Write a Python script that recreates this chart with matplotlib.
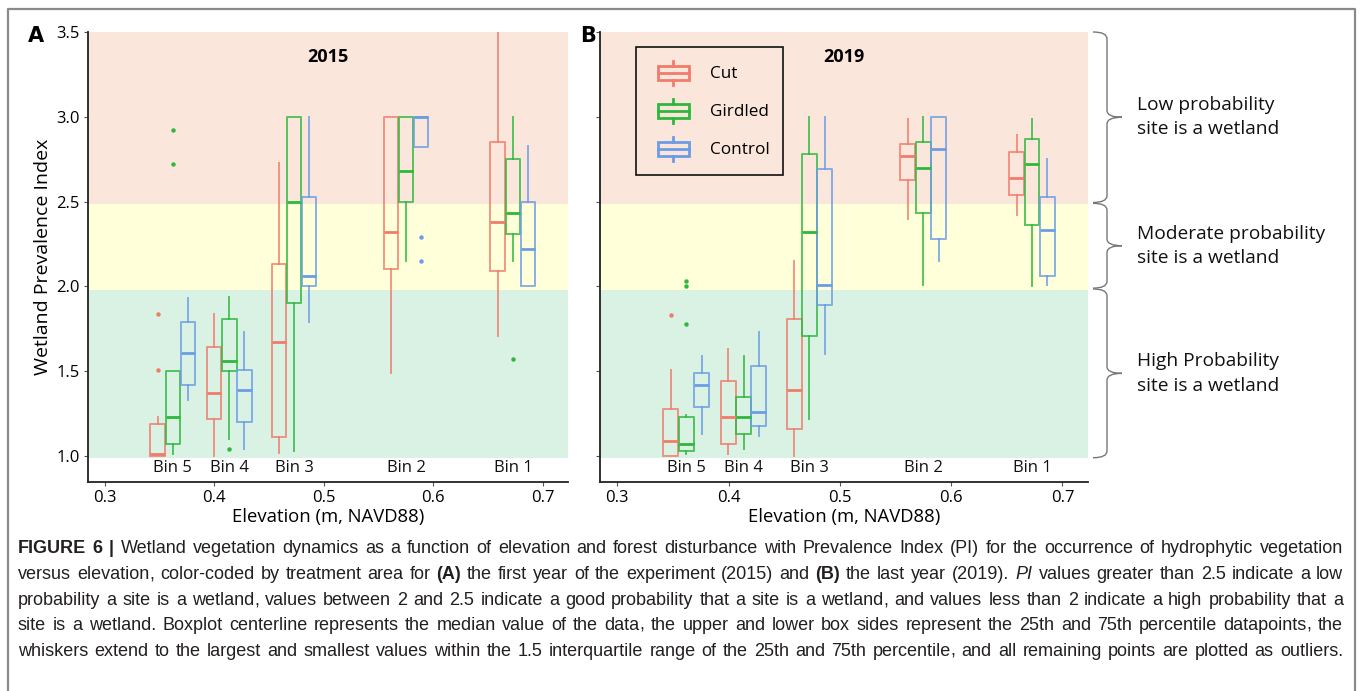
import numpy as np
import matplotlib
matplotlib.use("Agg")
import matplotlib.pyplot as plt
from matplotlib.patches import Rectangle, Patch, PathPatch
from matplotlib.lines import Line2D
from matplotlib.path import Path
from matplotlib.legend_handler import HandlerBase
from matplotlib.transforms import blended_transform_factory

plt.rcParams['font.family'] = ['Open Sans', 'DejaVu Sans']

W, H = 1360, 691

bins = ["Bin 5", "Bin 4", "Bin 3", "Bin 2", "Bin 1"]
bin_elev = [0.362, 0.4135, 0.4727, 0.575, 0.6727]
treatments = ["Cut", "Girdled", "Control"]
colors = ["#F07C6C", "#2DB83D", "#6C9CE6"]

# (whislo, q1, median, q3, whishi) per bin
cut_2015 = [(1.00, 1.00, 1.01, 1.19, 1.23), (1.00, 1.22, 1.37, 1.64, 1.84),
            (1.02, 1.11, 1.67, 2.13, 2.73), (1.49, 2.10, 2.32, 3.00, 3.00),
            (1.71, 2.09, 2.38, 2.85, 3.50)]
girdled_2015 = [(1.01, 1.07, 1.23, 1.50, 1.50), (1.10, 1.50, 1.56, 1.81, 1.94),
                (1.03, 1.90, 2.50, 3.00, 3.00), (2.15, 2.50, 2.68, 3.00, 3.00),
                (2.15, 2.31, 2.43, 2.75, 3.00)]
control_2015 = [(1.33, 1.42, 1.61, 1.79, 1.93), (1.04, 1.20, 1.39, 1.51, 1.73),
                (1.79, 2.00, 2.06, 2.53, 3.00), (2.82, 2.82, 3.00, 3.00, 3.00),
                (2.00, 2.00, 2.22, 2.50, 2.83)]
cut_2015_out = [[1.84, 1.51], [], [], [], []]
girdled_2015_out = [[2.92, 2.72], [1.04], [], [], [1.57]]
control_2015_out = [[], [], [], [2.29, 2.15], []]

cut_2019 = [(1.00, 1.00, 1.09, 1.28, 1.51), (1.01, 1.07, 1.23, 1.44, 1.63),
            (1.00, 1.16, 1.39, 1.81, 2.15), (2.40, 2.63, 2.77, 2.84, 2.99),
            (2.42, 2.54, 2.64, 2.79, 2.89)]
girdled_2019 = [(1.01, 1.03, 1.07, 1.23, 1.24), (1.04, 1.13, 1.23, 1.35, 1.59),
                (1.22, 1.71, 2.32, 2.78, 3.00), (2.01, 2.43, 2.70, 2.85, 3.00),
                (2.00, 2.36, 2.72, 2.87, 2.99)]
control_2019 = [(1.13, 1.29, 1.42, 1.49, 1.59), (1.12, 1.18, 1.26, 1.53, 1.73),
                (1.60, 1.89, 2.01, 2.69, 3.00), (2.15, 2.28, 2.81, 3.00, 3.00),
                (2.01, 2.06, 2.33, 2.53, 2.75)]
cut_2019_out = [[1.83], [], [], [], []]
girdled_2019_out = [[2.03, 2.00, 1.78], [], [], [], []]
control_2019_out = [[], [], [], [], []]

zones = [(2.485, 3.5, "#FBE6DC"), (1.98, 2.485, "#FFFFDA"), (0.99, 1.98, "#D9F2E3")]
zone_text = ["Low probability\nsite is a wetland",
             "Moderate probability\nsite is a wetland",
             "High Probability\nsite is a wetland"]
brace_spans = [(3.5, 2.495), (2.49, 1.99), (1.985, 0.99)]

caption = [
    "*FIGURE *6 *| Wetland vegetation dynamics as a function of elevation and forest disturbance with Prevalence Index (PI) for the occurrence of hydrophytic vegetation",
    "versus elevation, color-coded by treatment area for *(A) the first year of the experiment (2015) and *(B) the last year (2019). _PI values greater than 2.5 indicate a low",
    "probability a site is a wetland, values between 2 and 2.5 indicate a good probability that a site is a wetland, and values less than 2 indicate a high probability that a",
    "site is a wetland. Boxplot centerline represents the median value of the data, the upper and lower box sides represent the 25th and 75th percentile datapoints, the",
    "whiskers extend to the largest and smallest values within the 1.5 interquartile range of the 25th and 75th percentile, and all remaining points are plotted as outliers.",
]


class BoxIconHandler(HandlerBase):
    def create_artists(self, legend, orig_handle, xdescent, ydescent,
                       width, height, fontsize, trans):
        c = orig_handle.get_edgecolor()
        bw = width * 0.66
        x0 = -xdescent + (width - bw) / 2
        yc = -ydescent + height / 2
        bh = height * 0.56
        rect = Rectangle((x0, yc - bh / 2), bw, bh, fill=False, ec=c, lw=2,
                         transform=trans)
        mid = Line2D([x0, x0 + bw], [yc, yc], color=c, lw=2, transform=trans)
        xm = x0 + bw / 2
        top = Line2D([xm, xm], [yc + bh / 2, yc + height / 2], color=c, lw=2,
                     transform=trans)
        bot = Line2D([xm, xm], [yc - bh / 2, yc - height / 2], color=c, lw=2,
                     transform=trans)
        return [rect, mid, top, bot]


def draw_panel(ax, series, outliers, title):
    for lo, hi, col in zones:
        ax.axhspan(lo, hi, color=col, lw=0, zorder=0)
    offsets = [-0.0138, 0.0, 0.0138]
    for k, (summ, outs) in enumerate(zip(series, outliers)):
        stats = []
        for (wl, q1, md, q3, wh), fl in zip(summ, outs):
            stats.append(dict(whislo=wl, q1=q1, med=md, q3=q3, whishi=wh,
                              fliers=np.array(fl)))
        c = colors[k]
        pos = [e + offsets[k] for e in bin_elev]
        ax.bxp(stats, positions=pos, widths=0.0134, showcaps=False,
               manage_ticks=False,
               boxprops=dict(color=c, lw=1.4, alpha=0.8),
               whiskerprops=dict(color=c, lw=1.4, alpha=0.8),
               medianprops=dict(color=c, lw=2.0),
               flierprops=dict(marker='o', markersize=3.2, markerfacecolor=c,
                               markeredgecolor='none'))
    for b, e in zip(bins, bin_elev):
        ax.text(e, 0.93, b, ha='center', va='center', fontsize=12, color='#111')
    ax.set_xlim(0.2845, 0.723)
    ax.set_ylim(0.847, 3.5)
    ax.set_xticks([0.3, 0.4, 0.5, 0.6, 0.7])
    ax.set_yticks([1.0, 1.5, 2.0, 2.5, 3.0, 3.5])
    ax.xaxis.set_major_formatter(matplotlib.ticker.FormatStrFormatter('%.1f'))
    ax.yaxis.set_major_formatter(matplotlib.ticker.FormatStrFormatter('%.1f'))
    ax.tick_params(length=3, width=0.8, color='#555', labelsize=12, pad=3)
    for s in ['top', 'right']:
        ax.spines[s].set_visible(False)
    for s in ['left', 'bottom']:
        ax.spines[s].set_linewidth(1.3)
        ax.spines[s].set_color('#222')
    ax.set_xlabel("Elevation (m, NAVD88)", fontsize=13.3, labelpad=1)
    ax.text(0.5, 0.965, title, transform=ax.transAxes, ha='center', va='top',
            fontsize=13, fontweight='bold')


fig = plt.figure(figsize=(W / 100, H / 100), dpi=100)
ax1 = fig.add_axes([88 / W, 1 - 482 / H, 480 / W, 450 / H])
ax2 = fig.add_axes([600 / W, 1 - 482 / H, 488 / W, 450 / H])

draw_panel(ax1, [cut_2015, girdled_2015, control_2015],
           [cut_2015_out, girdled_2015_out, control_2015_out], "2015")
draw_panel(ax2, [cut_2019, girdled_2019, control_2019],
           [cut_2019_out, girdled_2019_out, control_2019_out], "2019")
ax1.set_ylabel("Wetland Prevalence Index", fontsize=14, labelpad=3)
ax2.tick_params(axis='y', labelleft=False)

fig.text(36 / W, 1 - 36 / H, "A", fontsize=15, fontweight='bold', ha='center', va='center',
         family='DejaVu Sans')
fig.text(588 / W, 1 - 36 / H, "B", fontsize=15, fontweight='bold', ha='center', va='center',
         family='DejaVu Sans')

handles = [Patch(facecolor='none', edgecolor=c, label=t) for c, t in zip(colors, treatments)]
leg = ax2.legend(handles=handles, handler_map={Patch: BoxIconHandler()},
                 loc='upper left', bbox_to_anchor=(0.074, 0.967), borderaxespad=0,
                 fontsize=12.3, handlelength=2.75, handleheight=1.85, labelspacing=0.78,
                 borderpad=0.8, handletextpad=0.75, fancybox=False, framealpha=1,
                 facecolor='none', edgecolor='#111')
leg.get_frame().set_linewidth(1.2)

# braces on the right of panel B
tr = blended_transform_factory(fig.transFigure, ax2.transData)
xa, xv, xt = 1093 / W, 1107 / W, 1122 / W
for (ytop, ybot), txt in zip(brace_spans, zone_text):
    ym = (ytop + ybot) / 2
    d = 0.04
    verts = [(xa, ytop), (xv, ytop), (xv, ytop - d),
             (xv, ym + d), (xv, ym), (xt, ym),
             (xv, ym), (xv, ym - d),
             (xv, ybot + d), (xv, ybot), (xa, ybot)]
    codes = [Path.MOVETO, Path.CURVE3, Path.CURVE3,
             Path.LINETO, Path.CURVE3, Path.CURVE3,
             Path.CURVE3, Path.CURVE3,
             Path.LINETO, Path.CURVE3, Path.CURVE3]
    fig.add_artist(PathPatch(Path(verts, codes), transform=tr, fill=False,
                             ec='#777', lw=1.0, clip_on=False))
    t = fig.text(1137 / W, 0, txt, transform=tr, ha='left', va='center',
                 fontsize=13.8, linespacing=1.45, color='#111')
    t.set_y(ym)

# outer frame
fig.add_artist(Line2D([8 / W, 8 / W, 1355 / W, 1355 / W], [0, 1 - 9 / H, 1 - 9 / H, 0],
                      color='#8a8a8a', lw=1.6))

# justified caption: one text per word, trailing commas as their own piece
fig.canvas.draw()
renderer = fig.canvas.get_renderer()
x0, x1 = 18, 1343
baselines = [553, 579, 605, 630, 656]
for line, yb in zip(caption, baselines):
    size = 13.0
    while True:
        words = []
        for tok in line.split(" "):
            kw = dict(fontsize=size, family=['Liberation Sans', 'DejaVu Sans'],
                      color='#231F20')
            if tok.startswith("*"):
                tok = tok[1:]
                kw['fontweight'] = 'bold'
            elif tok.startswith("_"):
                tok = tok[1:]
                kw['fontstyle'] = 'italic'
            parts = [tok[:-1], ","] if tok.endswith(",") else [tok]
            pieces = []
            for p in parts:
                t = fig.text(0, 1 - yb / H, p, ha='left', va='baseline', **kw)
                pieces.append((t, t.get_window_extent(renderer).width))
            words.append(pieces)
        total = sum(w for pcs in words for _, w in pcs)
        gap = (x1 - x0 - total) / (len(words) - 1)
        if gap >= 3.2 or size < 11:
            break
        for pcs in words:
            for t, _ in pcs:
                t.remove()
        size -= 0.2
    x = x0
    for pcs in words:
        for t, w in pcs:
            t.set_x(x / W)
            x += w
        x += gap

fig.savefig("out.png", dpi=100)
